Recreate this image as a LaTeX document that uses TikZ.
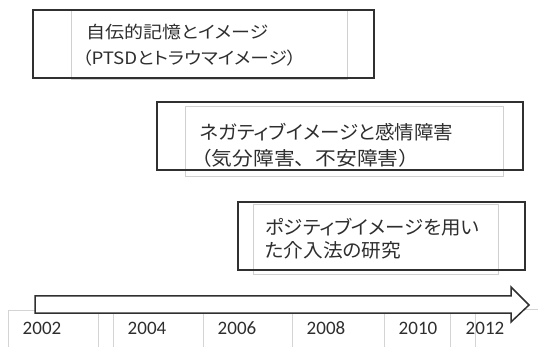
\documentclass[tikz,border=0pt]{standalone}
\usepackage{fontspec}
\usepackage{graphicx}
\setmainfont{Noto Sans CJK JP}[RawFeature=+palt]
\newfontfamily\jpfull{Noto Sans CJK JP}
\newfontfamily\yearfont{Carlito}
\newcommand{\jfit}[3]{\resizebox{#1}{\height}{\fontsize{#2}{#2}\selectfont #3}}
\definecolor{txt}{HTML}{2E2E2E}
\definecolor{outerc}{HTML}{303030}
\definecolor{innerc}{HTML}{D0D0D0}
\definecolor{yearc}{HTML}{D4D4D4}
\begin{document}
\begin{tikzpicture}[x=1pt,y=-1pt,
  outerbox/.style={draw=outerc, line width=1.6pt},
  innerbox/.style={draw=innerc, line width=1pt},
  yearbox/.style={draw=yearc, line width=0.9pt},
  arrowshape/.style={draw=outerc, line width=1.5pt, fill=white, line join=miter},
  jtext/.style={anchor=west, inner sep=0pt, text=txt},
  yeartext/.style={anchor=center, inner sep=0pt, text=txt, font=\yearfont\fontsize{19}{22}\selectfont}]
\useasboundingbox (0,0) rectangle (538,347);
\fill[white] (0,0) rectangle (538,347);
\begin{scope}
\clip (0,0) rectangle (538,347);
% year boxes
\draw[yearbox] (8,310) rectangle (98,360);
\draw[yearbox] (113,308) rectangle (203,360);
\draw[yearbox] (203,309) rectangle (292,360);
\draw[yearbox] (292,309) rectangle (384,360);
\draw[yearbox] (384,309) rectangle (475,360);
\draw[yearbox] (450,309) rectangle (560,360);
% timeline arrow
\draw[arrowshape] (35,296) -- (511,296) -- (511,287) -- (529,305) -- (511,322) -- (511,313) -- (35,313) -- cycle;
\end{scope}
% inner light boxes
\draw[innerbox] (71,11) rectangle (347,80);
\draw[innerbox] (185,107) rectangle (503,177);
\draw[innerbox] (253,205) rectangle (498,275);
% outer boxes
\draw[outerbox] (33,10) rectangle (374,78);
\draw[outerbox] (157,102) rectangle (523,170);
\draw[outerbox] (238,202) rectangle (525,270);
% texts
\node[jtext] (t1a) at (86,32.5) {\jfit{182pt}{17}{自伝的記憶とイメージ}};
\node[jtext] (t1b) at (82,58.5) {\jfit{214pt}{17}{（PTSDとトラウマイメージ）}};
\node[jtext] (t2a) at (200,132) {\jfit{253pt}{19}{ネガティブイメージと感情障害}};
\node[jtext] (t2b) at (191,158) {\jfit{228pt}{19}{\jpfull （気分障害、不安障害）}};
\node[jtext] (t3a) at (265,227) {\jfit{214pt}{19}{ポジティブイメージを用い}};
\node[jtext] (t3b) at (265,250) {\jfit{136pt}{19}{た介入法の研究}};
% years
\node[yeartext] (y2002) at (42,328) {2002};
\node[yeartext] (y2004) at (147,328) {2004};
\node[yeartext] (y2006) at (237,328) {2006};
\node[yeartext] (y2008) at (326,328) {2008};
\node[yeartext] (y2010) at (418,328) {2010};
\node[yeartext] (y2012) at (485,328) {2012};
\end{tikzpicture}
\end{document}
